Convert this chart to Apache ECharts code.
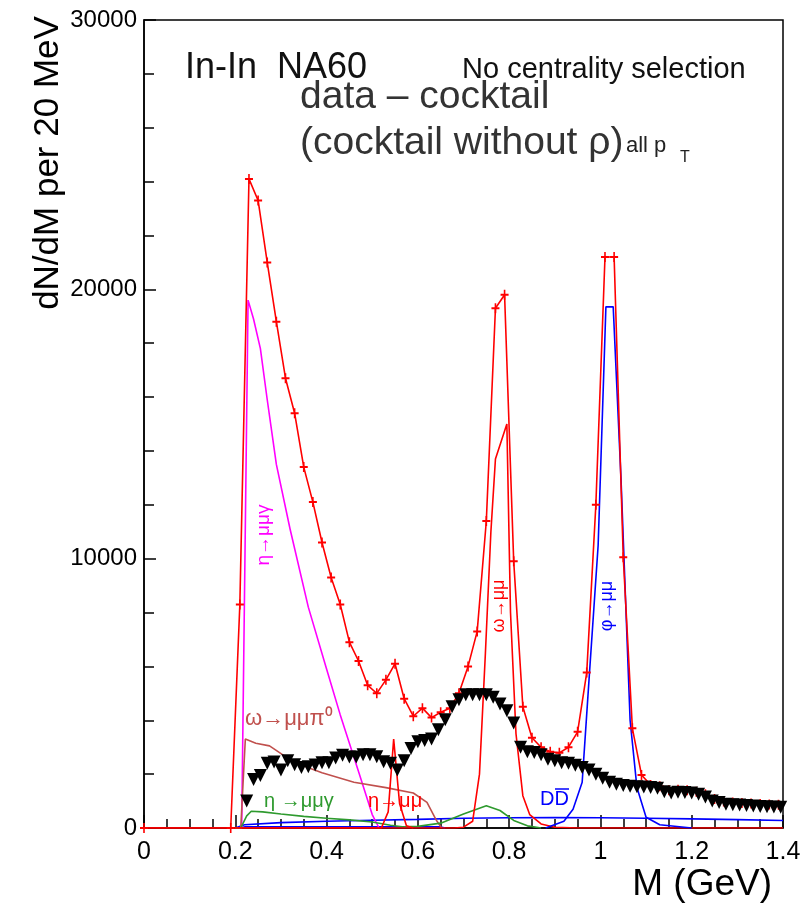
<!DOCTYPE html>
<html><head><meta charset="utf-8">
<script src="https://cdn.jsdelivr.net/npm/echarts@6/dist/echarts.min.js"></script>
<style>html,body{margin:0;padding:0;background:#fff}#c{width:805px;height:909px}</style>
</head><body><div id="c"></div>
<script>
// ---- tick labels / axes ----
const xTickValues = [0, 0.2, 0.4, 0.6, 0.8, 1, 1.2, 1.4];
const yTickValues = [0, 10000, 20000, 30000];

// ---- measured data (red, with markers), 20 MeV bins ----
const dataMass = [0, 0.19, 0.21, 0.23, 0.25, 0.27, 0.29, 0.31, 0.33, 0.35, 0.37, 0.39, 0.41, 0.43, 0.45, 0.47, 0.49, 0.51, 0.53, 0.55, 0.57, 0.59, 0.61, 0.63, 0.65, 0.67, 0.69, 0.71, 0.73, 0.75, 0.77, 0.79, 0.81, 0.83, 0.85, 0.87, 0.89, 0.91, 0.93, 0.95, 0.97, 0.99, 1.01, 1.03, 1.05, 1.07, 1.09, 1.11, 1.13, 1.15, 1.17, 1.19, 1.21, 1.23, 1.25, 1.27, 1.29, 1.31, 1.33, 1.35, 1.37, 1.39];
const dataCounts = [0, 0, 8300, 24100, 23300, 21000, 18800, 16700, 15400, 13400, 12100, 10600, 9300, 8300, 6900, 6200, 5300, 5000, 5500, 6100, 4800, 4150, 4450, 4100, 4300, 4450, 5000, 6000, 7300, 11400, 19300, 19800, 9900, 4500, 3350, 3000, 2830, 2790, 3000, 3570, 5770, 12000, 21200, 21200, 10050, 3700, 1970, 1600, 1550, 1400, 1420, 1400, 1350, 1250, 1080, 980, 950, 930, 910, 890, 870, 860];

// ---- excess: data - cocktail (cocktail without rho), black triangles ----
const excessMass = [0.225, 0.240, 0.255, 0.270, 0.285, 0.300, 0.315, 0.330, 0.345, 0.360, 0.375, 0.390, 0.405, 0.420, 0.435, 0.450, 0.465, 0.480, 0.495, 0.510, 0.525, 0.540, 0.555, 0.570, 0.585, 0.600, 0.615, 0.630, 0.645, 0.660, 0.675, 0.690, 0.705, 0.720, 0.735, 0.750, 0.765, 0.780, 0.795, 0.810, 0.825, 0.840, 0.855, 0.870, 0.885, 0.900, 0.915, 0.930, 0.945, 0.960, 0.975, 0.990, 1.005, 1.020, 1.035, 1.050, 1.065, 1.080, 1.095, 1.110, 1.125, 1.140, 1.155, 1.170, 1.185, 1.200, 1.215, 1.230, 1.245, 1.260, 1.275, 1.290, 1.305, 1.320, 1.335, 1.350, 1.365, 1.380, 1.395];
const excessCounts = [1000, 1800, 1950, 2400, 2450, 2150, 2500, 2350, 2250, 2270, 2340, 2420, 2420, 2600, 2700, 2640, 2640, 2720, 2720, 2650, 2460, 2400, 2150, 2500, 2950, 3200, 3250, 3300, 3650, 4020, 4500, 4760, 4950, 4950, 4950, 4950, 4850, 4600, 4350, 3900, 3000, 2830, 2800, 2720, 2550, 2500, 2420, 2400, 2330, 2250, 2150, 2000, 1850, 1700, 1620, 1580, 1550, 1530, 1520, 1500, 1480, 1350, 1300, 1330, 1320, 1300, 1250, 1150, 1000, 950, 880, 860, 850, 840, 820, 800, 790, 780, 770];

// ---- cocktail components ----
const etaDalitzMass = [0.20, 0.214, 0.228, 0.24, 0.255, 0.27, 0.29, 0.32, 0.36, 0.40, 0.43, 0.47, 0.50, 0.515];
const etaDalitzCounts = [0, 0, 19600, 18900, 17800, 15900, 13500, 11100, 8200, 5900, 4200, 2100, 500, 0];

const omegaDalitzMass = [0.20, 0.212, 0.222, 0.245, 0.275, 0.31, 0.35, 0.39, 0.46, 0.53, 0.59, 0.62, 0.64, 0.652];
const omegaDalitzCounts = [0, 0, 3300, 3150, 3050, 2650, 2300, 2050, 1700, 1500, 1300, 950, 300, 0];

const etaPrimeMass = [0.20, 0.212, 0.225, 0.235, 0.26, 0.30, 0.35, 0.40, 0.45, 0.50, 0.54, 0.57, 0.60, 0.65, 0.70, 0.75, 0.78, 0.81, 0.84, 0.87];
const etaPrimeCounts = [0, 0, 450, 620, 600, 520, 430, 360, 300, 220, 100, 40, 60, 180, 520, 830, 650, 280, 80, 0];

const etaMuMuMass = [0.20, 0.52, 0.535, 0.547, 0.56, 0.575, 0.59];
const etaMuMuCounts = [0, 0, 600, 3300, 900, 80, 0];

const omegaMass = [0, 0.68, 0.70, 0.72, 0.735, 0.748, 0.76, 0.77, 0.795, 0.803, 0.815, 0.83, 0.845, 0.87, 0.90, 0.95, 1.4];
const omegaCounts = [0, 0, 30, 250, 2000, 6500, 11000, 13700, 15000, 8000, 3500, 1200, 500, 150, 30, 0, 0];

const phiMass = [0.88, 0.92, 0.94, 0.96, 0.975, 0.995, 1.012, 1.028, 1.045, 1.065, 1.08, 1.10, 1.13, 1.2];
const phiCounts = [0, 250, 700, 1700, 5500, 10500, 19350, 19350, 13000, 4000, 1500, 400, 120, 0];

const ddbarMass = [0.20, 0.22, 0.30, 0.40, 0.50, 0.60, 0.70, 0.80, 0.90, 1.00, 1.10, 1.20, 1.30, 1.40];
const ddbarCounts = [0, 120, 200, 250, 290, 320, 360, 380, 390, 380, 360, 340, 310, 280];

const lowMass = [0.20, 0.22, 0.65, 0.66];
const lowCounts = [0, 40, 40, 0];

function zip(a, b) { return a.map((m, i) => [m, b[i]]); }

const chart = echarts.init(document.getElementById('c'), null, {renderer: 'canvas'});
const FONT = '"Liberation Sans", Arial, Helvetica, sans-serif';
const plus = 'path://M4,0H6V4H10V6H6V10H4V6H0V4H4Z';

function curve(name, mass, counts, color, z) {
  return {
    name, type: 'line', data: zip(mass, counts), showSymbol: false, symbol: 'none',
    lineStyle: {color, width: 1.6}, z: z || 2, silent: true
  };
}

const option = {
  animation: false,
  backgroundColor: '#fff',
  grid: {left: 144, right: 22, top: 20, bottom: 81, show: true, borderColor: '#000', borderWidth: 1.5, backgroundColor: 'transparent'},
  xAxis: {
    type: 'value', min: xTickValues[0], max: xTickValues[xTickValues.length - 1], interval: 0.2,
    axisLine: {lineStyle: {color: '#000', width: 1.5}},
    axisTick: {inside: true, length: 13, lineStyle: {color: '#000', width: 1.5}},
    minorTick: {show: true, splitNumber: 4, length: 9, lineStyle: {color: '#000', width: 1.5}},
    splitLine: {show: false},
    axisLabel: {fontSize: 25, color: '#000', margin: 12, fontFamily: FONT,
      formatter: v => String(Math.round(v * 10) / 10)}
  },
  yAxis: {
    type: 'value', min: yTickValues[0], max: yTickValues[yTickValues.length - 1], interval: 10000,
    axisLine: {show: true, lineStyle: {color: '#000', width: 1.5}},
    axisTick: {inside: true, length: 12, lineStyle: {color: '#000', width: 1.5}},
    minorTick: {show: true, splitNumber: 5, length: 10, lineStyle: {color: '#000', width: 1.5}},
    splitLine: {show: false},
    axisLabel: {fontSize: 24, color: '#000', margin: 7, fontFamily: FONT, formatter: v => String(v)}
  },
  series: [
    curve('low', lowMass, lowCounts, '#0000ff', 2),
    curve('DDbar', ddbarMass, ddbarCounts, '#0000ff', 2),
    curve('eta dalitz', etaDalitzMass, etaDalitzCounts, '#ff00ff', 2),
    curve('omega dalitz', omegaDalitzMass, omegaDalitzCounts, '#c0504d', 2),
    curve('eta prime', etaPrimeMass, etaPrimeCounts, '#2e9a2e', 2),
    curve('eta mumu', etaMuMuMass, etaMuMuCounts, '#ff0000', 2),
    curve('omega', omegaMass, omegaCounts, '#ff0000', 2),
    curve('phi', phiMass, phiCounts, '#0000ff', 2),
    {
      name: 'data', type: 'line', data: zip(dataMass, dataCounts),
      symbol: plus, symbolSize: [8, 10], showSymbol: true,
      itemStyle: {color: '#ff0000'}, lineStyle: {color: '#ff0000', width: 1.6}, z: 3, silent: true
    },
    {
      name: 'excess', type: 'scatter', data: zip(excessMass, excessCounts),
      symbol: 'triangle', symbolRotate: 180, symbolSize: [13, 13],
      itemStyle: {color: '#000', opacity: 1}, z: 4, silent: true
    }
  ],
  graphic: [
    {type: 'text', x: 48, y: 163, rotation: Math.PI / 2, z: 10,
      style: {text: 'dN/dM per 20 MeV', font: '35px ' + FONT, fill: '#000', align: 'center', verticalAlign: 'middle'}},
    {type: 'text', x: 772, y: 885, z: 10,
      style: {text: 'M (GeV)', font: '37px ' + FONT, fill: '#000', align: 'right', verticalAlign: 'middle'}},
    {type: 'text', x: 185, y: 68, z: 10,
      style: {text: 'In-In  NA60', font: '36px ' + FONT, fill: '#111', align: 'left', verticalAlign: 'middle'}},
    {type: 'text', x: 462, y: 70, z: 10,
      style: {text: 'No centrality selection', font: '29px ' + FONT, fill: '#111', align: 'left', verticalAlign: 'middle'}},
    {type: 'text', x: 300, y: 97, z: 10,
      style: {text: 'data \u2013 cocktail', font: '39px ' + FONT, fill: '#333', align: 'left', verticalAlign: 'middle'}},
    {type: 'text', x: 300, y: 143, z: 10,
      style: {text: '(cocktail without \u03c1)', font: '39px ' + FONT, fill: '#333', align: 'left', verticalAlign: 'middle'}},
    {type: 'text', x: 626, y: 146, z: 10,
      style: {text: 'all p', font: '22px ' + FONT, fill: '#222', align: 'left', verticalAlign: 'middle'}},
    {type: 'text', x: 680, y: 158, z: 10,
      style: {text: 'T', font: '16px ' + FONT, fill: '#222', align: 'left', verticalAlign: 'middle'}},
    {type: 'text', x: 264, y: 535, rotation: Math.PI / 2, z: 10,
      style: {text: '\u03b7\u2192\u03bc\u03bc\u03b3', font: '19px ' + FONT, fill: '#ff00ff', align: 'center', verticalAlign: 'middle'}},
    {type: 'text', x: 499, y: 606, rotation: Math.PI / 2, z: 10,
      style: {text: '\u03c9\u2192\u03bc\u03bc', font: '18px ' + FONT, fill: '#ff0000', align: 'center', verticalAlign: 'middle'}},
    {type: 'text', x: 607, y: 606, rotation: Math.PI / 2, z: 10,
      style: {text: '\u03c6\u2192\u03bc\u03bc', font: '18px ' + FONT, fill: '#0000ff', align: 'center', verticalAlign: 'middle'}},
    {type: 'text', x: 245, y: 719, z: 10,
      style: {text: '\u03c9\u2192\u03bc\u03bc\u03c0\u2070', font: '22px ' + FONT, fill: '#c0504d', align: 'left', verticalAlign: 'middle'}},
    {type: 'text', x: 264, y: 801, z: 10,
      style: {text: '\u03b7 \u2192\u03bc\u03bc\u03b3', font: '20px ' + FONT, fill: '#2e9a2e', align: 'left', verticalAlign: 'middle'}},
    {type: 'text', x: 368, y: 801, z: 10,
      style: {text: '\u03b7\u2192\u03bc\u03bc', font: '20px ' + FONT, fill: '#ff0000', align: 'left', verticalAlign: 'middle'}},
    {type: 'text', x: 540, y: 799, z: 10,
      style: {text: 'DD', font: '20px ' + FONT, fill: '#0000ff', align: 'left', verticalAlign: 'middle'}},
    {type: 'line', z: 10, shape: {x1: 555, y1: 789, x2: 569, y2: 789}, style: {stroke: '#0000ff', lineWidth: 1.5}}
  ]
};
chart.setOption(option);
</script>
</body></html>
